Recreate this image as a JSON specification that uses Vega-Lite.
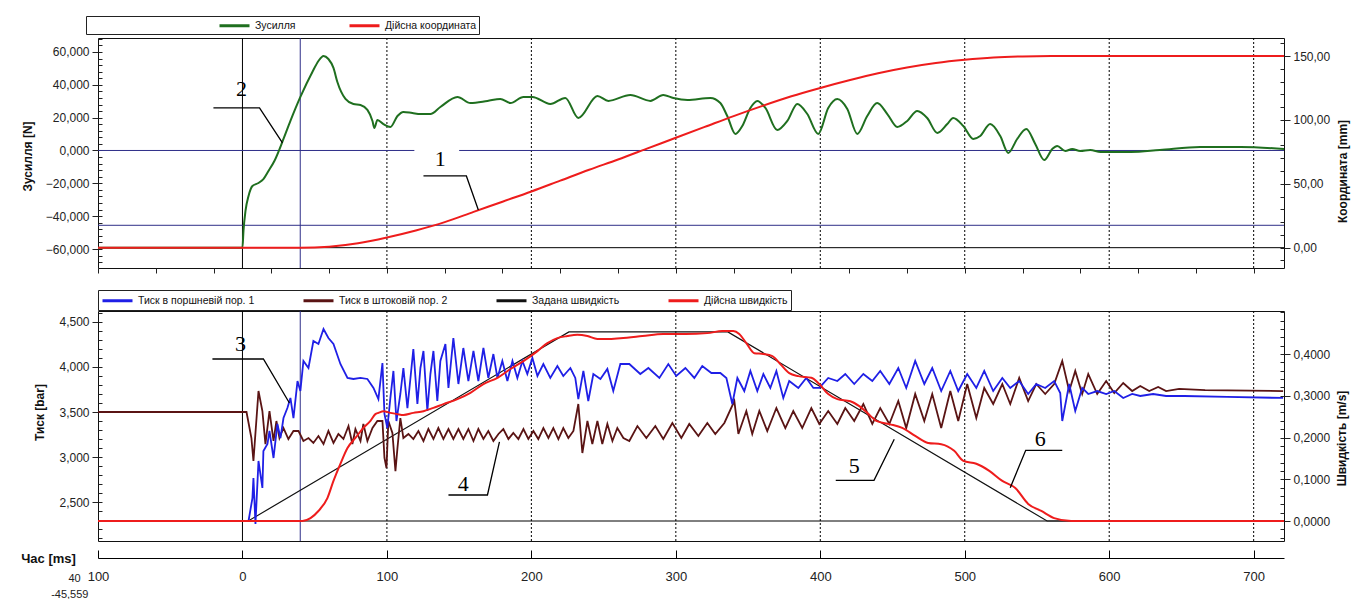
{
"$schema":"https://vega.github.io/schema/vega-lite/v6.json",
"background":"white",
"padding":{"left":20,"top":15,"right":5,"bottom":0},
"bounds":"flush",
"spacing":43,
"config":{
 "view":{"stroke":"#111","strokeWidth":1},
 "axis":{"labelFont":"Liberation Sans","labelFontSize":12,"labelColor":"#222","titleFont":"Liberation Sans","titleFontSize":12,"titleFontWeight":"bold","titleColor":"#111","tickColor":"#222","domainColor":"#222","grid":false}
},
"resolve":{"scale":{"color":"independent"}},
"datasets":{
 "force":[{"t":-100,"v":-59.2},{"t":0,"v":-59.2},{"t":0.7,"v":-49},{"t":2.1,"v":-36.8},{"t":4.2,"v":-27.7},{"t":6.9,"v":-21.6},{"t":11.1,"v":-19.8},{"t":14.5,"v":-17.4},{"t":18,"v":-12.5},{"t":22.1,"v":-6.4},{"t":28.4,"v":7.0},{"t":33.2,"v":18.0},{"t":40.1,"v":32.6},{"t":48.4,"v":47.8},{"t":52.6,"v":54.5},{"t":56.1,"v":57.6},{"t":59.5,"v":55.7},{"t":63.0,"v":50.3},{"t":65.7,"v":41.7},{"t":71.3,"v":31.4},{"t":76.8,"v":28.3},{"t":81.7,"v":27.7},{"t":86.5,"v":24.7},{"t":90.0,"v":18.0},{"t":91.3,"v":13.7},{"t":93.4,"v":18.6},{"t":97.6,"v":16.1},{"t":102.4,"v":14.3},{"t":107.3,"v":21.0},{"t":111.4,"v":23.5},{"t":117.6,"v":22.8},{"t":123.2,"v":22.2},{"t":130.1,"v":22.2},{"t":137.0,"v":26.5},{"t":148.8,"v":32.6},{"t":157.8,"v":28.9},{"t":169.6,"v":30.2},{"t":178.5,"v":31.4},{"t":185.5,"v":28.9},{"t":194.5,"v":32.6},{"t":200.7,"v":32.6},{"t":213.1,"v":28.3},{"t":223.5,"v":32.0},{"t":232.5,"v":19.8},{"t":245.7,"v":33.2},{"t":253.3,"v":30.2},{"t":268.5,"v":33.8},{"t":282.4,"v":30.2},{"t":291.3,"v":33.8},{"t":298.3,"v":32.0},{"t":308,"v":30.8},{"t":323.9,"v":32.0},{"t":330.8,"v":28.9},{"t":335.6,"v":21.0},{"t":341.2,"v":10.1},{"t":346,"v":14.9},{"t":351.6,"v":25.9},{"t":356.4,"v":30.2},{"t":362,"v":25.9},{"t":370.2,"v":12.5},{"t":377.2,"v":18.0},{"t":384.1,"v":28.3},{"t":391,"v":22.2},{"t":398.6,"v":10.1},{"t":405.5,"v":25.9},{"t":411.8,"v":31.4},{"t":418.7,"v":25.3},{"t":425.6,"v":10.1},{"t":432.5,"v":21.0},{"t":439.4,"v":28.9},{"t":446.4,"v":22.2},{"t":453.3,"v":14.3},{"t":460.2,"v":18.0},{"t":467.1,"v":24.1},{"t":474,"v":19.8},{"t":481,"v":10.7},{"t":487.9,"v":16.1},{"t":492,"v":19.8},{"t":499,"v":14.9},{"t":505.9,"v":7.0},{"t":510.7,"v":8.8},{"t":517.6,"v":16.1},{"t":524.6,"v":8.8},{"t":530.1,"v":-1.5},{"t":536.3,"v":7.0},{"t":542.6,"v":13.1},{"t":548.8,"v":4.0},{"t":555,"v":-5.8},{"t":560.6,"v":0.9},{"t":564,"v":2.7},{"t":569.6,"v":-0.3},{"t":574.4,"v":0.9},{"t":579.9,"v":-0.3},{"t":586.9,"v":0.3},{"t":594,"v":-0.9},{"t":615,"v":-0.9},{"t":635,"v":0.3},{"t":663,"v":2.1},{"t":691,"v":2.1},{"t":721,"v":0.9}],
 "coord":[{"t":-100,"v":0},{"t":40,"v":0},{"t":60,"v":0.8},{"t":80,"v":3.5},{"t":100,"v":8},{"t":120,"v":13.5},{"t":140,"v":20},{"t":160,"v":28},{"t":180,"v":36},{"t":200,"v":44},{"t":220,"v":52.5},{"t":240,"v":61},{"t":260,"v":69},{"t":280,"v":77.5},{"t":300,"v":86},{"t":320,"v":94.5},{"t":340,"v":103},{"t":360,"v":111},{"t":380,"v":118.5},{"t":400,"v":125},{"t":420,"v":131},{"t":440,"v":136.5},{"t":460,"v":141},{"t":480,"v":144.5},{"t":500,"v":147},{"t":520,"v":148.8},{"t":540,"v":149.7},{"t":560,"v":150},{"t":721,"v":150}],
 "blue":[{"t":-100,"v":2.289},{"t":4.2,"v":2.289},{"t":6.9,"v":2.544},{"t":7.6,"v":2.767},{"t":9.0,"v":2.256},{"t":11.1,"v":2.956},{"t":13.8,"v":2.656},{"t":14.5,"v":3.067},{"t":17.3,"v":3.144},{"t":18.7,"v":3.289},{"t":21.5,"v":2.989},{"t":24.2,"v":3.367},{"t":26.3,"v":3.211},{"t":28.4,"v":3.433},{"t":31.1,"v":3.544},{"t":33.2,"v":3.656},{"t":35.3,"v":3.433},{"t":38.1,"v":3.844},{"t":40.1,"v":3.733},{"t":42.2,"v":4.067},{"t":45.7,"v":3.989},{"t":49.1,"v":4.289},{"t":52.6,"v":4.256},{"t":56.1,"v":4.422},{"t":59.5,"v":4.322},{"t":63.0,"v":4.256},{"t":67.8,"v":4.033},{"t":72.7,"v":3.878},{"t":76.8,"v":3.867},{"t":81.7,"v":3.878},{"t":86.5,"v":3.867},{"t":90.7,"v":3.767},{"t":94.1,"v":3.644},{"t":96.9,"v":4.044},{"t":98.3,"v":3.478},{"t":100.3,"v":3.322},{"t":102.4,"v":3.656},{"t":104.5,"v":3.956},{"t":106.6,"v":3.4},{"t":109.3,"v":3.7},{"t":111.4,"v":3.989},{"t":114.2,"v":3.544},{"t":116.3,"v":3.878},{"t":118.3,"v":4.2},{"t":121.1,"v":3.589},{"t":123.2,"v":3.989},{"t":125.3,"v":4.178},{"t":128.0,"v":3.511},{"t":130.1,"v":3.922},{"t":132.2,"v":4.178},{"t":134.9,"v":3.622},{"t":137.0,"v":4.067},{"t":140.5,"v":4.256},{"t":142.6,"v":3.767},{"t":146.0,"v":4.322},{"t":149.5,"v":3.811},{"t":152.9,"v":4.211},{"t":156.4,"v":3.844},{"t":159.9,"v":4.178},{"t":163.3,"v":3.844},{"t":166.8,"v":4.211},{"t":170.2,"v":3.878},{"t":173.7,"v":4.144},{"t":176.5,"v":3.878},{"t":179.9,"v":4.067},{"t":183.4,"v":3.844},{"t":186.9,"v":4.067},{"t":190.3,"v":3.878},{"t":193.8,"v":4.067},{"t":197.2,"v":3.922},{"t":200.7,"v":4.1},{"t":204.2,"v":3.9},{"t":208.3,"v":4.033},{"t":213.1,"v":3.878},{"t":218.0,"v":4.011},{"t":222.1,"v":3.9},{"t":227.0,"v":3.989},{"t":230.4,"v":3.878},{"t":232.5,"v":3.644},{"t":236.0,"v":3.956},{"t":239.4,"v":3.622},{"t":242.9,"v":3.922},{"t":247.8,"v":3.867},{"t":252.6,"v":3.978},{"t":256.7,"v":3.733},{"t":261.6,"v":4.033},{"t":267.8,"v":4.033},{"t":275.4,"v":3.922},{"t":281.0,"v":3.989},{"t":288.6,"v":3.878},{"t":294.8,"v":4.033},{"t":300.3,"v":3.9},{"t":306.6,"v":3.989},{"t":312.8,"v":3.878},{"t":318.3,"v":4.011},{"t":324.6,"v":3.933},{"t":330.8,"v":3.933},{"t":335.0,"v":3.878},{"t":339.1,"v":3.589},{"t":342.6,"v":3.878},{"t":347.4,"v":3.733},{"t":351.6,"v":3.956},{"t":356.4,"v":3.733},{"t":360.6,"v":3.922},{"t":365.4,"v":3.767},{"t":369.6,"v":3.956},{"t":374.4,"v":3.656},{"t":378.5,"v":3.844},{"t":384.8,"v":3.767},{"t":390.3,"v":3.878},{"t":395.2,"v":3.767},{"t":399.3,"v":3.767},{"t":405.5,"v":3.878},{"t":411.8,"v":3.844},{"t":417.3,"v":3.922},{"t":423.5,"v":3.811},{"t":429.8,"v":3.922},{"t":436.0,"v":3.844},{"t":441.5,"v":3.956},{"t":447.8,"v":3.811},{"t":454.0,"v":3.989},{"t":459.5,"v":3.767},{"t":465.7,"v":4.067},{"t":472.0,"v":3.811},{"t":477.5,"v":3.989},{"t":483.7,"v":3.733},{"t":490.0,"v":3.956},{"t":495.5,"v":3.733},{"t":501.7,"v":3.922},{"t":508.0,"v":3.767},{"t":513.5,"v":3.956},{"t":519.7,"v":3.733},{"t":526.0,"v":3.878},{"t":531.5,"v":3.767},{"t":537.7,"v":3.844},{"t":543.9,"v":3.7},{"t":549.5,"v":3.811},{"t":555.7,"v":3.767},{"t":561.9,"v":3.844},{"t":566.1,"v":3.711},{"t":567.5,"v":3.4},{"t":572.3,"v":3.811},{"t":576.5,"v":3.511},{"t":581.3,"v":3.767},{"t":585.5,"v":3.7},{"t":591.7,"v":3.733},{"t":597.9,"v":3.7},{"t":603.5,"v":3.733},{"t":609.7,"v":3.656},{"t":615.9,"v":3.7},{"t":621.5,"v":3.678},{"t":630.4,"v":3.7},{"t":639.4,"v":3.678},{"t":651.9,"v":3.678},{"t":681.7,"v":3.667},{"t":720.4,"v":3.656}],
 "maroon":[{"t":-100,"v":3.5},{"t":2.8,"v":3.5},{"t":6.2,"v":3.211},{"t":7.6,"v":2.956},{"t":11.1,"v":3.733},{"t":13.8,"v":3.511},{"t":15.9,"v":3.144},{"t":18.7,"v":3.511},{"t":21.5,"v":3.178},{"t":23.5,"v":3.4},{"t":25.6,"v":3.211},{"t":28.4,"v":3.322},{"t":31.8,"v":3.2},{"t":35.3,"v":3.289},{"t":38.8,"v":3.289},{"t":42.2,"v":3.178},{"t":45.7,"v":3.211},{"t":49.1,"v":3.156},{"t":52.6,"v":3.233},{"t":56.1,"v":3.144},{"t":59.5,"v":3.289},{"t":63.0,"v":3.156},{"t":66.4,"v":3.256},{"t":69.9,"v":3.2},{"t":73.4,"v":3.344},{"t":76.1,"v":3.144},{"t":78.2,"v":3.311},{"t":81.7,"v":3.178},{"t":83.7,"v":3.367},{"t":86.5,"v":3.178},{"t":90.0,"v":3.322},{"t":93.4,"v":3.4},{"t":96.9,"v":3.4},{"t":98.3,"v":2.989},{"t":99.7,"v":2.878},{"t":101.0,"v":3.4},{"t":103.8,"v":3.267},{"t":105.9,"v":2.844},{"t":107.3,"v":3.1},{"t":109.3,"v":3.433},{"t":111.4,"v":3.211},{"t":114.9,"v":3.256},{"t":118.3,"v":3.2},{"t":121.8,"v":3.289},{"t":125.3,"v":3.178},{"t":128.7,"v":3.311},{"t":132.2,"v":3.2},{"t":135.6,"v":3.322},{"t":139.1,"v":3.2},{"t":142.6,"v":3.311},{"t":146.0,"v":3.2},{"t":149.5,"v":3.311},{"t":152.9,"v":3.2},{"t":156.4,"v":3.311},{"t":159.9,"v":3.178},{"t":163.3,"v":3.311},{"t":166.8,"v":3.2},{"t":170.2,"v":3.289},{"t":173.7,"v":3.178},{"t":177.2,"v":3.256},{"t":180.6,"v":3.311},{"t":184.1,"v":3.2},{"t":187.5,"v":3.267},{"t":191.0,"v":3.2},{"t":194.5,"v":3.311},{"t":197.9,"v":3.2},{"t":201.4,"v":3.289},{"t":204.8,"v":3.2},{"t":208.3,"v":3.322},{"t":211.8,"v":3.211},{"t":215.2,"v":3.322},{"t":218.7,"v":3.2},{"t":222.1,"v":3.322},{"t":225.6,"v":3.211},{"t":229.1,"v":3.289},{"t":232.5,"v":3.589},{"t":235.3,"v":3.044},{"t":238.8,"v":3.4},{"t":242.2,"v":3.144},{"t":245.7,"v":3.4},{"t":249.1,"v":3.144},{"t":252.6,"v":3.367},{"t":256.1,"v":3.178},{"t":259.5,"v":3.322},{"t":263.7,"v":3.211},{"t":267.8,"v":3.178},{"t":273.4,"v":3.344},{"t":279.6,"v":3.211},{"t":285.8,"v":3.344},{"t":291.3,"v":3.2},{"t":297.6,"v":3.378},{"t":303.8,"v":3.211},{"t":309.3,"v":3.367},{"t":315.6,"v":3.233},{"t":321.8,"v":3.378},{"t":327.3,"v":3.256},{"t":333.6,"v":3.378},{"t":340.5,"v":3.622},{"t":343.3,"v":3.256},{"t":348.8,"v":3.511},{"t":352.9,"v":3.256},{"t":357.8,"v":3.511},{"t":363.3,"v":3.289},{"t":369.6,"v":3.544},{"t":375.8,"v":3.322},{"t":381.3,"v":3.511},{"t":387.5,"v":3.322},{"t":393.8,"v":3.544},{"t":399.3,"v":3.367},{"t":405.5,"v":3.511},{"t":411.8,"v":3.367},{"t":417.3,"v":3.544},{"t":423.5,"v":3.4},{"t":429.8,"v":3.589},{"t":436.0,"v":3.367},{"t":441.5,"v":3.544},{"t":447.8,"v":3.367},{"t":454.0,"v":3.622},{"t":459.5,"v":3.322},{"t":465.7,"v":3.7},{"t":472.0,"v":3.4},{"t":477.5,"v":3.7},{"t":483.7,"v":3.322},{"t":490.0,"v":3.733},{"t":495.5,"v":3.4},{"t":501.7,"v":3.811},{"t":508.0,"v":3.433},{"t":513.5,"v":3.767},{"t":519.7,"v":3.589},{"t":526.0,"v":3.811},{"t":531.5,"v":3.589},{"t":537.7,"v":3.878},{"t":543.9,"v":3.622},{"t":549.5,"v":3.811},{"t":555.7,"v":3.7},{"t":561.9,"v":3.811},{"t":567.5,"v":4.067},{"t":572.3,"v":3.733},{"t":576.5,"v":3.956},{"t":581.3,"v":3.7},{"t":585.5,"v":3.922},{"t":591.7,"v":3.7},{"t":597.9,"v":3.844},{"t":603.5,"v":3.711},{"t":609.7,"v":3.822},{"t":615.9,"v":3.733},{"t":621.5,"v":3.789},{"t":627.7,"v":3.733},{"t":633.9,"v":3.778},{"t":639.4,"v":3.733},{"t":648.4,"v":3.756},{"t":666.4,"v":3.744},{"t":720.4,"v":3.733}],
 "vel":[{"t":-100,"v":0},{"t":41.5,"v":0},{"t":47.1,"v":0.007},{"t":52.6,"v":0.024},{"t":58.8,"v":0.055},{"t":63.0,"v":0.096},{"t":67.8,"v":0.137},{"t":72.7,"v":0.175},{"t":78.2,"v":0.199},{"t":83.7,"v":0.223},{"t":88.6,"v":0.24},{"t":92.0,"v":0.256},{"t":94.1,"v":0.259},{"t":97.6,"v":0.263},{"t":102.4,"v":0.259},{"t":107.3,"v":0.256},{"t":111.4,"v":0.254},{"t":118.3,"v":0.259},{"t":125.3,"v":0.263},{"t":132.2,"v":0.271},{"t":139.1,"v":0.28},{"t":148.8,"v":0.292},{"t":157.8,"v":0.307},{"t":166.8,"v":0.328},{"t":176.5,"v":0.343},{"t":185.5,"v":0.364},{"t":194.5,"v":0.383},{"t":204.2,"v":0.407},{"t":211.1,"v":0.426},{"t":218.0,"v":0.438},{"t":224.9,"v":0.443},{"t":231.8,"v":0.446},{"t":238.8,"v":0.443},{"t":245.7,"v":0.436},{"t":252.6,"v":0.436},{"t":261.6,"v":0.438},{"t":276.8,"v":0.443},{"t":291.3,"v":0.448},{"t":306.6,"v":0.448},{"t":321.8,"v":0.45},{"t":332.2,"v":0.455},{"t":339.8,"v":0.455},{"t":343.9,"v":0.448},{"t":348.8,"v":0.426},{"t":354.3,"v":0.402},{"t":360.6,"v":0.4},{"t":366.8,"v":0.395},{"t":372.3,"v":0.376},{"t":378.5,"v":0.354},{"t":384.8,"v":0.347},{"t":393.8,"v":0.343},{"t":399.3,"v":0.328},{"t":405.5,"v":0.304},{"t":411.8,"v":0.292},{"t":420.8,"v":0.287},{"t":427.0,"v":0.275},{"t":432.5,"v":0.259},{"t":438.8,"v":0.24},{"t":447.8,"v":0.232},{"t":456.7,"v":0.223},{"t":465.7,"v":0.204},{"t":474.7,"v":0.187},{"t":483.7,"v":0.184},{"t":492.7,"v":0.168},{"t":499.0,"v":0.144},{"t":508.0,"v":0.137},{"t":517.0,"v":0.12},{"t":526.0,"v":0.096},{"t":535.0,"v":0.079},{"t":543.9,"v":0.041},{"t":553.0,"v":0.024},{"t":561.9,"v":0.007},{"t":573.7,"v":0},{"t":721,"v":0}],
 "setvel":[{"t":-100,"v":0},{"t":4,"v":0},{"t":226,"v":0.453},{"t":336,"v":0.453},{"t":557,"v":0},{"t":721,"v":0}],
 "gridTop":[{"t":100,"a":68.5,"b":-71.57},{"t":200,"a":68.5,"b":-71.57},{"t":300,"a":68.5,"b":-71.57},{"t":400,"a":68.5,"b":-71.57},{"t":500,"a":68.5,"b":-71.57},{"t":600,"a":68.5,"b":-71.57},{"t":700,"a":68.5,"b":-71.57}],
 "gridBot":[{"t":100,"a":4.622,"b":2.067},{"t":200,"a":4.622,"b":2.067},{"t":300,"a":4.622,"b":2.067},{"t":400,"a":4.622,"b":2.067},{"t":500,"a":4.622,"b":2.067},{"t":600,"a":4.622,"b":2.067},{"t":700,"a":4.622,"b":2.067}],
 "annTop":[{"id":"1","o":1,"t":125.3,"v":-15.5},{"id":"1","o":2,"t":155.0,"v":-15.5},{"id":"1","o":3,"t":163.3,"v":-36.2},{"id":"2","o":1,"t":-20.1,"v":25.9},{"id":"2","o":2,"t":11.8,"v":25.9},{"id":"2","o":3,"t":27.7,"v":4.6}],
 "annTopText":[{"s":"1","t":137.0,"v":-5.2},{"s":"2","t":-0.7,"v":37.5}],
 "annBot":[{"id":"3","o":1,"t":-20.8,"v":4.089},{"id":"3","o":2,"t":14.5,"v":4.089},{"id":"3","o":3,"t":32.5,"v":3.6},{"id":"4","o":1,"t":142.6,"v":2.578},{"id":"4","o":2,"t":169.6,"v":2.578},{"id":"4","o":3,"t":177.9,"v":3.167},{"id":"5","o":1,"t":410.7,"v":2.741},{"id":"5","o":2,"t":437.2,"v":2.741},{"id":"5","o":3,"t":451.2,"v":3.197},{"id":"6","o":1,"t":531.5,"v":2.659},{"id":"6","o":2,"t":542.2,"v":3.074},{"id":"6","o":3,"t":567.5,"v":3.074}],
 "annBotText":[{"s":"3","t":-1.4,"v":4.256},{"s":"4","t":152.9,"v":2.7},{"s":"5","t":423.5,"v":2.9},{"s":"6","t":552.2,"v":3.2}],
 "cursorText":[{"s":"40","t":-112,"v":1.644},{"s":"-45,559","t":-106.6,"v":1.467}]
},
"vconcat":[
{
 "width":1186,"height":230,
 "resolve":{"scale":{"y":"independent"}},
 "layer":[
  {"data":{"name":"gridTop"},"mark":{"type":"rule","color":"#000","strokeWidth":1,"strokeDash":[2,2]},
   "encoding":{"x":{"field":"t","type":"quantitative","scale":{"domain":[-100,721],"nice":false,"zero":false},
     "axis":{"orient":"bottom","values":[-100,-80,-60,-40,-20,0,20,40,60,80,100,120,140,160,180,200,220,240,260,280,300,320,340,360,380,400,420,440,460,480,500,520,540,560,580,600,620,640,660,680,700,720],"labels":false,"tickSize":5,"domain":false,"title":null}},
     "y":{"field":"a","type":"quantitative","scale":{"domain":[-71.57,68.5],"nice":false,"zero":false},"axis":null},"y2":{"field":"b"}}},
  {"data":{"values":[{"t":0,"a":68.5,"b":-71.57}]},"mark":{"type":"rule","color":"#000","strokeWidth":1},
   "encoding":{"x":{"field":"t","type":"quantitative"},
     "y":{"field":"a","type":"quantitative","scale":{"domain":[-71.57,68.5],"nice":false,"zero":false},"axis":null},"y2":{"field":"b"}}},
  {"data":{"values":[{"t":40,"a":68.5,"b":-71.57}]},"mark":{"type":"rule","color":"#2e2e88","strokeWidth":1},
   "encoding":{"x":{"field":"t","type":"quantitative"},
     "y":{"field":"a","type":"quantitative","scale":{"domain":[-71.57,68.5],"nice":false,"zero":false},"axis":null},"y2":{"field":"b"}}},
  {"data":{"values":[{"f":0,"t1":-100,"t2":119},{"f":0,"t1":150,"t2":721},{"f":-45.559,"t1":-100,"t2":721}]},
   "mark":{"type":"rule","color":"#2e2e88","strokeWidth":1},
   "encoding":{"x":{"field":"t1","type":"quantitative"},"x2":{"field":"t2"},
     "y":{"field":"f","type":"quantitative","scale":{"domain":[-71.57,68.5],"nice":false,"zero":false},
       "axis":{"orient":"left","values":[-68,-64,-60,-56,-52,-48,-44,-40,-36,-32,-28,-24,-20,-16,-12,-8,-4,0,4,8,12,16,20,24,28,32,36,40,44,48,52,56,60,64,68],"labels":false,"tickSize":-4,"domain":false,"title":null}}}},
  {"data":{"values":[{"c":0,"t1":-100,"t2":721}]},"mark":{"type":"rule","color":"#000","strokeWidth":1},
   "encoding":{"x":{"field":"t1","type":"quantitative"},"x2":{"field":"t2"},
     "y":{"field":"c","type":"quantitative","scale":{"domain":[-15.9,164.1],"nice":false,"zero":false},
     "axis":{"orient":"right","values":[-10,0,10,20,30,40,50,60,70,80,90,100,110,120,130,140,150,160],"labels":false,"tickSize":-4,"domain":false,"title":null}}}},
  {"data":{"name":"force"},"mark":{"type":"line","strokeWidth":2,"interpolate":"monotone"},
   "encoding":{"x":{"field":"t","type":"quantitative"},
     "y":{"field":"v","type":"quantitative","scale":{"domain":[-71.57,68.5],"nice":false,"zero":false},
       "axis":{"orient":"left","values":[-60,-40,-20,0,20,40,60],"labelExpr":"replace(format(datum.value,'.3f'),'.',',')","tickSize":6,"labelPadding":3,"domain":false,"title":"Зусилля [N]","titleAngle":270,"titleX":-71,"titleY":118,"titleAlign":"center","titleBaseline":"middle"}},
     "color":{"datum":"Зусилля","type":"nominal","scale":{"domain":["Зусилля","Дійсна координата"],"range":["#1f6f1f","#ee1c1c"]},
       "legend":{"orient":"none","legendX":-12,"legendY":-22,"direction":"horizontal","symbolType":"M-1,0H4","symbolSize":144,"symbolStrokeWidth":3,"labelFont":"Liberation Sans","labelFontSize":10.5,"labelColor":"#111","labelOffset":22,"columnPadding":47,"strokeColor":"#222","fillColor":"white","padding":2,"title":" ","titleOrient":"left","titlePadding":130,"labelLimit":0}}}},
  {"data":{"name":"coord"},"mark":{"type":"line","strokeWidth":2,"interpolate":"monotone"},
   "encoding":{"x":{"field":"t","type":"quantitative"},
     "y":{"field":"v","type":"quantitative","scale":{"domain":[-15.9,164.1],"nice":false,"zero":false},
       "axis":{"orient":"right","values":[0,50,100,150],"labelExpr":"replace(format(datum.value,'.2f'),'.',',')","tickSize":6,"labelPadding":3,"domain":false,"title":"Координата [mm]","titleAngle":270,"titleX":58,"titleY":133,"titleAlign":"center","titleBaseline":"middle"}},
     "color":{"datum":"Дійсна координата","type":"nominal"}}},
  {"data":{"name":"annTop"},"mark":{"type":"line","color":"#000","strokeWidth":1.3},
   "encoding":{"x":{"field":"t","type":"quantitative"},
     "y":{"field":"v","type":"quantitative","scale":{"domain":[-71.57,68.5],"nice":false,"zero":false},"axis":null},
     "detail":{"field":"id"},"order":{"field":"o"}}},
  {"data":{"name":"annTopText"},"mark":{"type":"text","font":"Liberation Serif","fontSize":22,"color":"#000","align":"center","baseline":"middle"},
   "encoding":{"x":{"field":"t","type":"quantitative"},
     "y":{"field":"v","type":"quantitative","scale":{"domain":[-71.57,68.5],"nice":false,"zero":false},"axis":null},
     "text":{"field":"s"}}}
 ]
},
{
 "width":1186,"height":230,
 "resolve":{"scale":{"y":"independent"}},
 "layer":[
  {"data":{"name":"gridBot"},"mark":{"type":"rule","color":"#000","strokeWidth":1,"strokeDash":[2,2]},
   "encoding":{"x":{"field":"t","type":"quantitative","scale":{"domain":[-100,721],"nice":false,"zero":false},
       "axis":{"orient":"bottom","offset":17,"values":[-100,0,100,200,300,400,500,600,700],
         "labelExpr":"format(abs(datum.value),'d')","labelOverlap":false,"labelFlush":false,"labelFontSize":13,"labelPadding":20,"tickSize":-8,"domain":true,"domainColor":"#000","tickColor":"#000",
         "title":"Час [ms]","titleX":-50,"titleY":0,"titleAngle":0,"titleAlign":"center","titleBaseline":"middle","titleFontSize":13}},
     "y":{"field":"a","type":"quantitative","scale":{"domain":[2.067,4.622],"nice":false,"zero":false},"axis":null},"y2":{"field":"b"}}},
  {"data":{"values":[{"t":0,"a":4.622,"b":2.067}]},"mark":{"type":"rule","color":"#000","strokeWidth":1},
   "encoding":{"x":{"field":"t","type":"quantitative"},
     "y":{"field":"a","type":"quantitative","scale":{"domain":[2.067,4.622],"nice":false,"zero":false},"axis":null},"y2":{"field":"b"}}},
  {"data":{"values":[{"t":40,"a":4.622,"b":2.067}]},"mark":{"type":"rule","color":"#2e2e88","strokeWidth":1},
   "encoding":{"x":{"field":"t","type":"quantitative"},
     "y":{"field":"a","type":"quantitative","scale":{"domain":[2.067,4.622],"nice":false,"zero":false},"axis":null},"y2":{"field":"b"}}},
  {"data":{"values":[{"v":0,"t1":-100,"t2":721}]},"mark":{"type":"rule","color":"#000","strokeWidth":1},
   "encoding":{"x":{"field":"t1","type":"quantitative"},"x2":{"field":"t2"},
     "y":{"field":"v","type":"quantitative","scale":{"domain":[-0.0479,0.503],"nice":false,"zero":false},
     "axis":{"orient":"right","values":[-0.04,-0.02,0,0.02,0.04,0.06,0.08,0.1,0.12,0.14,0.16,0.18,0.2,0.22,0.24,0.26,0.28,0.3,0.32,0.34,0.36,0.38,0.4,0.42,0.44,0.46,0.48,0.5],"labels":false,"tickSize":-4,"domain":false,"title":null}}}},
  {"data":{"name":"setvel"},"mark":{"type":"line","strokeWidth":1.2},
   "encoding":{"x":{"field":"t","type":"quantitative"},
     "y":{"field":"v","type":"quantitative","scale":{"domain":[-0.0479,0.503],"nice":false,"zero":false},"axis":null},
     "color":{"datum":"Задана швидкість","type":"nominal"}}},
  {"data":{"name":"maroon"},"mark":{"type":"line","strokeWidth":1.8},
   "encoding":{"x":{"field":"t","type":"quantitative"},
     "y":{"field":"v","type":"quantitative","scale":{"domain":[2.067,4.622],"nice":false,"zero":false},
       "axis":{"orient":"left","values":[2.1,2.2,2.3,2.4,2.5,2.6,2.7,2.8,2.9,3.0,3.1,3.2,3.3,3.4,3.5,3.6,3.7,3.8,3.9,4.0,4.1,4.2,4.3,4.4,4.5,4.6],"labels":false,"tickSize":-4,"domain":false,"title":null}},
     "color":{"datum":"Тиск в штоковій пор. 2","type":"nominal"}}},
  {"data":{"name":"blue"},"mark":{"type":"line","strokeWidth":1.8},
   "encoding":{"x":{"field":"t","type":"quantitative"},
     "y":{"field":"v","type":"quantitative","scale":{"domain":[2.067,4.622],"nice":false,"zero":false},
       "axis":{"orient":"left","values":[2.5,3.0,3.5,4.0,4.5],"labelExpr":"replace(format(datum.value,'.3f'),'.',',')","tickSize":6,"labelPadding":3,"domain":false,"title":"Тиск [bar]","titleAngle":270,"titleX":-59,"titleY":101,"titleAlign":"center","titleBaseline":"middle"}},
     "color":{"datum":"Тиск в поршневій пор. 1","type":"nominal","scale":{"domain":["Тиск в поршневій пор. 1","Тиск в штоковій пор. 2","Задана швидкість","Дійсна швидкість"],"range":["#1f1fe6","#5a1414","#111111","#ee1c1c"]},
       "legend":{"orient":"none","legendX":0,"legendY":-21,"direction":"horizontal","symbolType":"M-1,0H4","symbolSize":144,"symbolStrokeWidth":3,"labelFont":"Liberation Sans","labelFontSize":10.5,"labelColor":"#111","labelOffset":22,"columnPadding":42,"strokeColor":"#222","fillColor":"white","padding":3,"title":null,"labelLimit":0}}}},
  {"data":{"name":"vel"},"mark":{"type":"line","strokeWidth":2,"interpolate":"monotone"},
   "encoding":{"x":{"field":"t","type":"quantitative"},
     "y":{"field":"v","type":"quantitative","scale":{"domain":[-0.0479,0.503],"nice":false,"zero":false},
       "axis":{"orient":"right","values":[0,0.1,0.2,0.3,0.4],"labelExpr":"replace(format(datum.value,'.4f'),'.',',')","tickSize":6,"labelPadding":3,"domain":false,"title":"Швидкість [m/s]","titleAngle":270,"titleX":57,"titleY":127,"titleAlign":"center","titleBaseline":"middle"}},
     "color":{"datum":"Дійсна швидкість","type":"nominal"}}},
  {"data":{"name":"annBot"},"mark":{"type":"line","color":"#000","strokeWidth":1.3},
   "encoding":{"x":{"field":"t","type":"quantitative"},
     "y":{"field":"v","type":"quantitative","scale":{"domain":[2.067,4.622],"nice":false,"zero":false},"axis":null},
     "detail":{"field":"id"},"order":{"field":"o"}}},
  {"data":{"name":"annBotText"},"mark":{"type":"text","font":"Liberation Serif","fontSize":22,"color":"#000","align":"center","baseline":"middle"},
   "encoding":{"x":{"field":"t","type":"quantitative"},
     "y":{"field":"v","type":"quantitative","scale":{"domain":[2.067,4.622],"nice":false,"zero":false},"axis":null},
     "text":{"field":"s"}}},
  {"data":{"name":"cursorText"},"mark":{"type":"text","font":"Liberation Sans","fontSize":11,"color":"#222","align":"right","baseline":"middle"},
   "encoding":{"x":{"field":"t","type":"quantitative"},
     "y":{"field":"v","type":"quantitative","scale":{"domain":[2.067,4.622],"nice":false,"zero":false},"axis":null},
     "text":{"field":"s"}}}
 ]
}
]
}
